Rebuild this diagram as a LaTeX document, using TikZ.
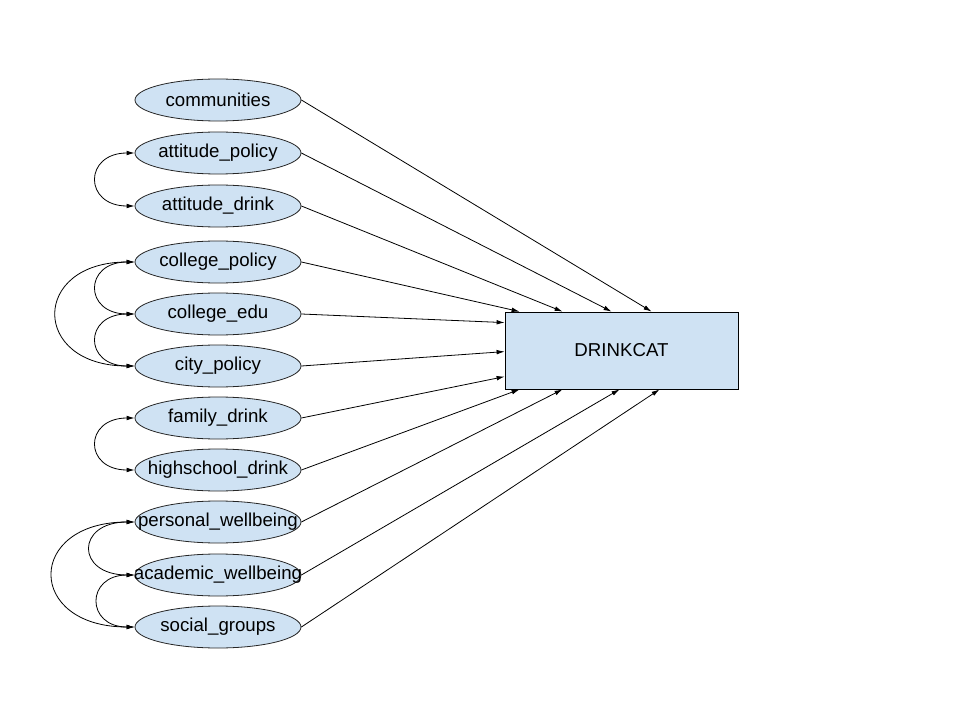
\documentclass[tikz,border=0pt]{standalone}
\usepackage{fontspec}
\setmainfont{Liberation Sans}
\usetikzlibrary{shapes.geometric,arrows.meta,calc}
\definecolor{lysbla}{HTML}{CFE2F3}
\newcommand{\tekst}[1]{\makebox[0pt]{#1}}

\begin{document}
\begin{tikzpicture}[x=0.75pt,y=-0.75pt,
    font=\fontsize{14}{17}\selectfont,
    variabel/.style={ellipse,draw=black!85,fill=lysbla,line width=0.6pt,minimum width=124.5pt,minimum height=31.5pt,inner sep=0pt},
    boks/.style={rectangle,draw=black,fill=lysbla,line width=0.6pt,minimum width=174.75pt,minimum height=57.75pt},
    pil/.style={-{Latex[length=6pt,width=3.5pt]},line width=0.6pt},
    dobbelpil/.style={{Latex[length=6pt,width=3.5pt]}-{Latex[length=6pt,width=3.5pt]},line width=0.6pt}]
    \useasboundingbox (0,0) rectangle (960,720);

    %Variabler
        \node[variabel] (c) at (218,100) {\tekst{communities}};
        \node[variabel] (ap) at (218,153) {\tekst{attitude\_policy}};
        \node[variabel] (ad) at (218,206) {\tekst{attitude\_drink}};
        \node[variabel] (cp) at (218,262) {\tekst{college\_policy}};
        \node[variabel] (ce) at (218,314) {\tekst{college\_edu}};
        \node[variabel] (cip) at (218,366) {\tekst{city\_policy}};
        \node[variabel] (fd) at (218,418) {\tekst{family\_drink}};
        \node[variabel] (hd) at (218,470) {\tekst{highschool\_drink}};
        \node[variabel] (pw) at (218,522) {\tekst{personal\_wellbeing}};
        \node[variabel] (aw) at (218,575) {\tekst{academic\_wellbeing}};
        \node[variabel] (sg) at (218,627) {\tekst{social\_groups}};

    %Utfall
        \node[boks] (d) at (621.5,350.5) {DRINKCAT};

    %Piler
        \draw[pil] (c.east)--($(d.north west)+(147,0)$);
        \draw[pil] (ap.east)--($(d.north west)+(107,0)$);
        \draw[pil] (ad.east)--($(d.north west)+(58,0)$);
        \draw[pil] (cp.east)--($(d.north west)+(15,0)$);
        \draw[pil] (ce.east)--($(d.north west)+(0,11)$);
        \draw[pil] (cip.east)--($(d.north west)+(0,40)$);
        \draw[pil] (fd.east)--($(d.north west)+(0,65)$);
        \draw[pil] (hd.east)--($(d.south west)+(15,0)$);
        \draw[pil] (pw.east)--($(d.south west)+(58,0)$);
        \draw[pil] (aw.east)--($(d.south west)+(115,0)$);
        \draw[pil] (sg.east)--($(d.south west)+(155,0)$);

    %Korrelasjoner
        \draw[dobbelpil] (ap.west) .. controls +(-51,0) and +(-51,0) .. (ad.west);
        \draw[dobbelpil] (cp.west) .. controls +(-51,0) and +(-51,0) .. (ce.west);
        \draw[dobbelpil] (ce.west) .. controls +(-51,0) and +(-51,0) .. (cip.west);
        \draw[dobbelpil] (cp.west) .. controls +(-104,0) and +(-104,0) .. (cip.west);
        \draw[dobbelpil] (fd.west) .. controls +(-51,0) and +(-51,0) .. (hd.west);
        \draw[dobbelpil] (pw.west) .. controls +(-59,0) and +(-59,0) .. (aw.west);
        \draw[dobbelpil] (aw.west) .. controls +(-49,0) and +(-49,0) .. (sg.west);
        \draw[dobbelpil] (pw.west) .. controls +(-109,0) and +(-109,0) .. (sg.west);

\end{tikzpicture}
\end{document}
